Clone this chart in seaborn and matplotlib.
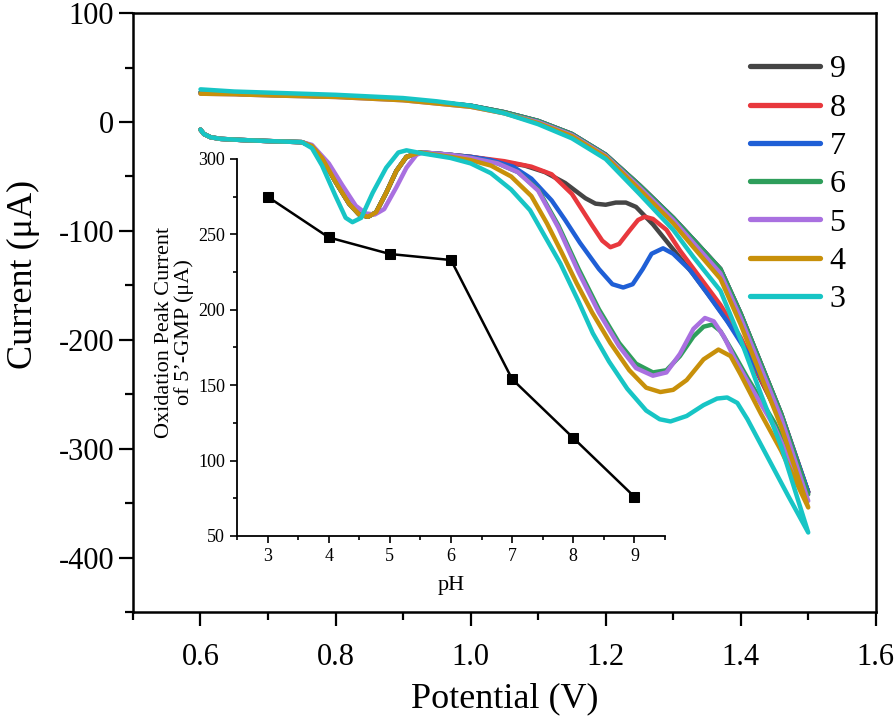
import matplotlib
matplotlib.use('Agg')
import matplotlib.pyplot as plt
from matplotlib.ticker import MultipleLocator
import seaborn as sns
import pandas as pd

# Voltammogramas por pH (barrido directo 0.6 -> 1.5 V)
ph_levels = ['9', '8', '7', '6', '5', '4', '3']
colors = ['#454545', '#e8383d', '#1f5fd6', '#2e9e5b', '#a970e0', '#c8900a', '#17c5c5']

start_x = [0.600, 0.605, 0.615, 0.63, 0.66, 0.70, 0.75]
start_y = [-7, -11, -14, -15.5, -16.5, -17.5, -18.5]

dip_x = [0.765, 0.78, 0.80, 0.82, 0.835, 0.848, 0.86, 0.875, 0.89, 0.905, 0.925]
dip_y = [-22, -33, -55, -75, -85, -87, -83, -65, -45, -32, -28]
dip5_x = [0.765, 0.79, 0.81, 0.83, 0.845, 0.858, 0.872, 0.89, 0.905, 0.92, 0.93]
dip5_y = [-21, -38, -58, -77, -84, -85, -80, -60, -42, -30, -28]
dip3_x = [0.765, 0.78, 0.80, 0.815, 0.825, 0.838, 0.855, 0.875, 0.893, 0.905]
dip3_y = [-24, -40, -68, -88, -92, -88, -65, -42, -28, -26]

fwd9_x = [0.95, 1.00, 1.05, 1.08, 1.11, 1.14, 1.17, 1.185, 1.20, 1.215, 1.23, 1.245, 1.27, 1.30, 1.33, 1.36, 1.40, 1.45, 1.50]
fwd9_y = [-29, -32, -37, -40, -46, -56, -70, -75, -76, -74, -74, -78, -94, -117, -140, -165, -200, -262, -340]
fwd8_x = [0.95, 1.00, 1.05, 1.09, 1.12, 1.15, 1.18, 1.195, 1.207, 1.22, 1.235, 1.248, 1.258, 1.27, 1.29, 1.31, 1.34, 1.37, 1.40, 1.45, 1.50]
fwd8_y = [-29, -32, -36, -41, -48, -66, -95, -109, -115, -112, -100, -90, -87, -89, -99, -118, -143, -168, -198, -262, -340]
fwd7_x = [0.95, 1.00, 1.03, 1.063, 1.09, 1.12, 1.14, 1.162, 1.19, 1.21, 1.226, 1.24, 1.255, 1.268, 1.285, 1.30, 1.325, 1.35, 1.38, 1.42, 1.46, 1.50]
fwd7_y = [-29, -32, -35, -41, -52, -72, -90, -111, -135, -149, -152, -149, -135, -121, -116, -121, -136, -157, -183, -222, -272, -340]
fwd6_x = [0.97, 1.00, 1.04, 1.07, 1.10, 1.13, 1.16, 1.19, 1.22, 1.245, 1.27, 1.29, 1.31, 1.33, 1.345, 1.358, 1.37, 1.39, 1.41, 1.45, 1.50]
fwd6_y = [-30, -33, -38, -46, -62, -95, -135, -172, -203, -222, -230, -228, -215, -197, -188, -186, -192, -213, -235, -276, -342]
fwd5_x = [0.97, 1.00, 1.04, 1.07, 1.10, 1.13, 1.16, 1.19, 1.22, 1.245, 1.27, 1.29, 1.31, 1.33, 1.347, 1.36, 1.375, 1.39, 1.41, 1.45, 1.50]
fwd5_y = [-30, -33, -38, -46, -63, -97, -138, -175, -206, -226, -233, -230, -213, -190, -180, -183, -197, -216, -238, -280, -348]
fwd4_x = [0.97, 1.00, 1.03, 1.06, 1.09, 1.113, 1.135, 1.157, 1.18, 1.207, 1.235, 1.26, 1.281, 1.30, 1.32, 1.345, 1.367, 1.385, 1.40, 1.43, 1.46, 1.50]
fwd4_y = [-32, -35, -40, -50, -68, -93, -120, -148, -175, -203, -228, -244, -248, -246, -237, -218, -209, -215, -232, -268, -302, -354]
fwd3_x = [0.93, 0.97, 1.00, 1.03, 1.06, 1.088, 1.11, 1.133, 1.16, 1.181, 1.205, 1.232, 1.26, 1.28, 1.296, 1.32, 1.345, 1.365, 1.38, 1.395, 1.41, 1.44, 1.47, 1.50]
fwd3_y = [-29, -33, -38, -47, -62, -81, -105, -130, -165, -194, -220, -245, -265, -273, -275, -270, -260, -254, -253, -258, -273, -308, -343, -377]

# Barrido inverso 1.5 -> 0.6 V
rev_x = [1.46, 1.43, 1.40, 1.37, 1.33, 1.30, 1.25, 1.20, 1.15, 1.10, 1.05, 1.00, 0.95, 0.90, 0.80, 0.70, 0.65, 0.60]
rev_hi_y = [-268, -222, -176, -135, -108, -88, -58, -30, -11, 1, 9, 15, 18, 21, 23.5, 25, 26, 27]
rev5_y = [-272, -226, -180, -139, -111, -90, -60, -31, -12, 0, 8, 14, 17, 20, 23, 24.5, 25.5, 26]
rev4_y = [-280, -233, -186, -144, -115, -93, -62, -32, -13, -1, 8, 14, 17, 20, 23, 24.5, 25.5, 26]
rev3_y = [-298, -250, -200, -155, -124, -99, -66, -34, -15, -2, 8, 15, 19, 22, 25, 27, 28, 30]

# Inset: corriente de pico vs pH
ph_vals = [3, 4, 5, 6, 7, 8, 9]
peak_current = [275, 248, 237, 233, 154, 115, 76]

curve_parts = {
    '9': (start_x + dip_x + fwd9_x, start_y + dip_y + fwd9_y, rev_hi_y),
    '8': (start_x + dip_x + fwd8_x, start_y + dip_y + fwd8_y, rev_hi_y),
    '7': (start_x + dip_x + fwd7_x, start_y + dip_y + fwd7_y, rev_hi_y),
    '6': (start_x + dip_x + fwd6_x, start_y + dip_y + fwd6_y, rev_hi_y),
    '5': (start_x + dip5_x + fwd5_x, start_y + dip5_y + fwd5_y, rev5_y),
    '4': (start_x + dip_x + fwd4_x, start_y + dip_y + fwd4_y, rev4_y),
    '3': (start_x + dip3_x + fwd3_x, start_y + dip3_y + fwd3_y, rev3_y),
}

rows = []
for ph in ph_levels:
    xs, ys, rys = curve_parts[ph]
    xs = xs + rev_x
    ys = ys + rys
    for x, y in zip(xs, ys):
        rows.append({'Potential': x, 'Current': y, 'pH': ph})
df = pd.DataFrame(rows)
df_inset = pd.DataFrame({'pH': ph_vals, 'Peak': peak_current})

sns.set_style('ticks')
plt.rcParams['font.family'] = ['Liberation Serif', 'DejaVu Serif']
plt.rcParams['axes.unicode_minus'] = False
for key in ['text.color', 'axes.labelcolor', 'xtick.color', 'ytick.color', 'axes.edgecolor']:
    plt.rcParams[key] = 'black'

fig = plt.figure(figsize=(8.96, 7.25), dpi=100)
ax = fig.add_axes([0.1484, 0.1559, 0.829, 0.826])

sns.lineplot(data=df, x='Potential', y='Current', hue='pH', hue_order=ph_levels,
             palette=colors, sort=False, estimator=None, units='pH',
             linewidth=3.2, ax=ax)

ax.set_xlim(0.5, 1.6)
ax.set_ylim(-450, 100)
ax.xaxis.set_major_locator(MultipleLocator(0.2))
ax.xaxis.set_minor_locator(MultipleLocator(0.1))
ax.yaxis.set_major_locator(MultipleLocator(100))
ax.yaxis.set_minor_locator(MultipleLocator(50))
ax.set_xticks([0.6, 0.8, 1.0, 1.2, 1.4, 1.6])
ax.set_xticklabels(['0.6', '0.8', '1.0', '1.2', '1.4', '1.6'])
ax.tick_params(axis='both', which='major', direction='out', length=10, width=1.6, labelsize=22)
ax.tick_params(axis='x', which='major', pad=12)
ax.tick_params(axis='both', which='minor', direction='out', length=6, width=1.6)
for s in ax.spines.values():
    s.set_linewidth(1.8)
ax.set_xlabel('Potential (V)', fontsize=26, labelpad=8)
ax.set_ylabel('Current (μA)', fontsize=26)
ax.yaxis.set_label_coords(-0.125, 0.563)

handles, labels = ax.get_legend_handles_labels()
ax.legend(handles, labels, loc='upper right', bbox_to_anchor=(0.998, 0.978),
          frameon=False, fontsize=23, handlelength=2.2, handletextpad=0.3,
          labelspacing=0.28)
for ln in ax.get_legend().get_lines():
    ln.set_linewidth(3.8)

# Inset
axin = fig.add_axes([0.2645, 0.2607, 0.4777, 0.52])
axin.patch.set_alpha(0)
sns.lineplot(data=df_inset, x='pH', y='Peak', color='black', marker='s',
             markersize=7, markeredgecolor='black', linewidth=1.8, ax=axin)
axin.set_xlim(2.5, 9.5)
axin.set_ylim(50, 300)
axin.xaxis.set_major_locator(MultipleLocator(1))
axin.xaxis.set_minor_locator(MultipleLocator(0.5))
axin.yaxis.set_major_locator(MultipleLocator(50))
axin.yaxis.set_minor_locator(MultipleLocator(25))
axin.tick_params(axis='both', which='major', direction='out', length=5, width=1.2, labelsize=13)
axin.tick_params(axis='both', which='minor', direction='out', length=3, width=1.2)
sns.despine(ax=axin)
for s in ['left', 'bottom']:
    axin.spines[s].set_linewidth(1.3)
axin.set_xlabel('pH', fontsize=16, labelpad=8)
axin.set_ylabel('Oxidation Peak Current\nof 5’-GMP (μA)', fontsize=16, linespacing=1.0)
axin.yaxis.set_label_coords(-0.10, 0.54)

fig.savefig('out.png', dpi=100)
